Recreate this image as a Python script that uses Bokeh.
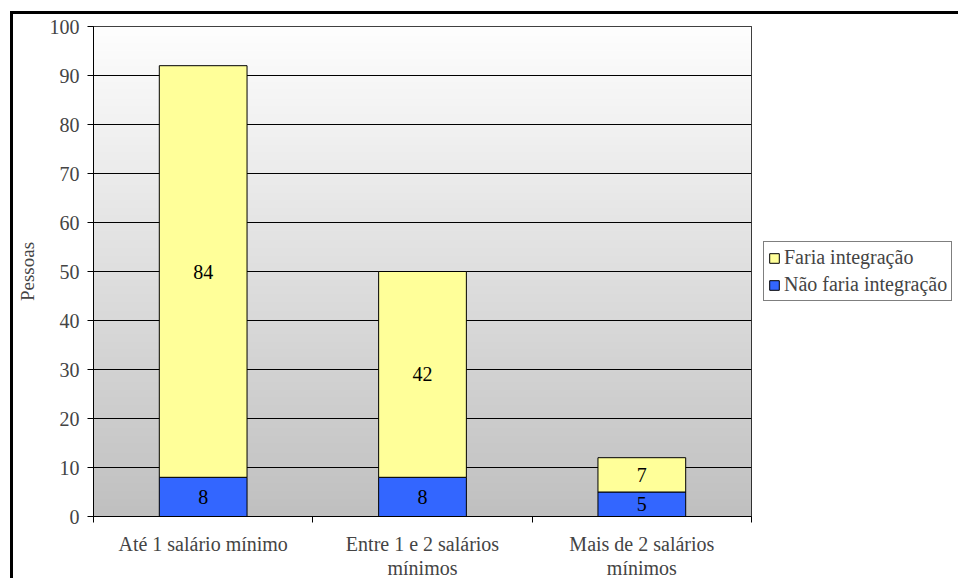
import numpy as np
from bokeh.plotting import figure
from bokeh.models import (Range1d, LinearAxis, FixedTicker,
                          Legend, LegendItem, LabelSet, ColumnDataSource)
from bokeh.core.properties import value
from bokeh.embed import file_html
from bokeh.resources import INLINE

categories = ["Até 1 salário mínimo", "Entre 1 e 2 salários\nmínimos", "Mais de 2 salários\nmínimos"]
nao_faria = [8, 8, 5]
faria = [84, 42, 7]
series_names = ["Não faria integração", "Faria integração"]
colors = ["#3366FF", "#FFFF99"]
y_ticks = list(range(0, 101, 10))

FONT = "Liberation Serif"
FS = "20px"
ncat = len(categories)
centers = [i + 0.5 for i in range(ncat)]
edges = list(range(ncat + 1))

p = figure(frame_width=658, frame_height=490, x_range=Range1d(0, ncat),
           y_range=Range1d(0, 100), output_backend="svg", toolbar_location=None,
           x_axis_location=None, y_axis_location=None,
           min_border_left=80, min_border_top=12, min_border_right=207, min_border_bottom=50)
p.styles = {"border-top": "3px solid black", "border-left": "3px solid black",
            "margin-left": "10px", "margin-top": "11px"}
p.background_fill_color = "white"
p.border_fill_color = "white"
p.outline_line_color = "black"
p.outline_line_width = 1

# gradient background
n = 256
vals = np.linspace(192, 254, n).astype(np.uint8)
img = np.zeros((n, 1), dtype=np.uint32)
view = img.view(dtype=np.uint8).reshape((n, 1, 4))
view[:, 0, 0] = vals
view[:, 0, 1] = vals
view[:, 0, 2] = vals
view[:, 0, 3] = 255
p.image_rgba(image=[img], x=0, y=0, dw=ncat, dh=100, level="image")

# y axis
yax = LinearAxis(ticker=FixedTicker(ticks=y_ticks), axis_label="Pessoas")
yax.major_tick_out = 6
yax.major_tick_in = 0
yax.minor_tick_line_color = None
yax.major_label_text_font = FONT
yax.major_label_text_font_size = FS
yax.major_label_standoff = 8
yax.axis_label_text_font = FONT
yax.axis_label_text_font_size = "19px"
yax.axis_label_text_font_style = "normal"
yax.axis_label_standoff = 9
p.add_layout(yax, "left")

# x axis: labels at category centers, ticks at category edges (minor ticks)
xax = LinearAxis(ticker=FixedTicker(ticks=centers, minor_ticks=edges),
                 major_label_overrides={c: lab for c, lab in zip(centers, categories)})
xax.major_tick_line_color = None
xax.major_tick_out = 0
xax.major_tick_in = 0
xax.minor_tick_line_color = "black"
xax.minor_tick_out = 6
xax.minor_tick_in = 0
xax.major_label_text_font = FONT
xax.major_label_text_font_size = FS
xax.major_label_text_line_height = 1.1
xax.major_label_standoff = 10
p.add_layout(xax, "below")

p.xgrid.grid_line_color = None
p.ygrid.grid_line_color = "black"
p.ygrid.ticker = FixedTicker(ticks=y_ticks)

src = ColumnDataSource(dict(x=centers, nao=nao_faria, faria=faria))
rs = p.vbar_stack(["nao", "faria"], x="x", width=0.4, source=src,
                  color=colors, line_color="black", line_width=1)

# value labels
mid_nao = [v / 2 for v in nao_faria]
mid_faria = [a + b / 2 for a, b in zip(nao_faria, faria)]
lsrc = ColumnDataSource(dict(x=centers * 2, y=mid_nao + mid_faria,
                             t=[str(v) for v in nao_faria + faria]))
labels = LabelSet(x="x", y="y", text="t", source=lsrc, text_align="center",
                  text_baseline="middle", text_font=value(FONT), text_font_size=FS,
                  text_color="black")
p.add_layout(labels)

legend = Legend(items=[LegendItem(label=series_names[1], renderers=[rs[1]]),
                       LegendItem(label=series_names[0], renderers=[rs[0]])],
                location="center_left")
legend.label_text_font = FONT
legend.label_text_font_size = FS
legend.glyph_width = 12
legend.glyph_height = 12
legend.border_line_color = "black"
legend.border_line_width = 1
legend.background_fill_alpha = 1
legend.padding = 4
legend.spacing = 4
legend.margin = 12
legend.label_standoff = 4
legend.label_height = 23
p.add_layout(legend, "right")

open("out.html", "w").write(file_html(p, INLINE))
